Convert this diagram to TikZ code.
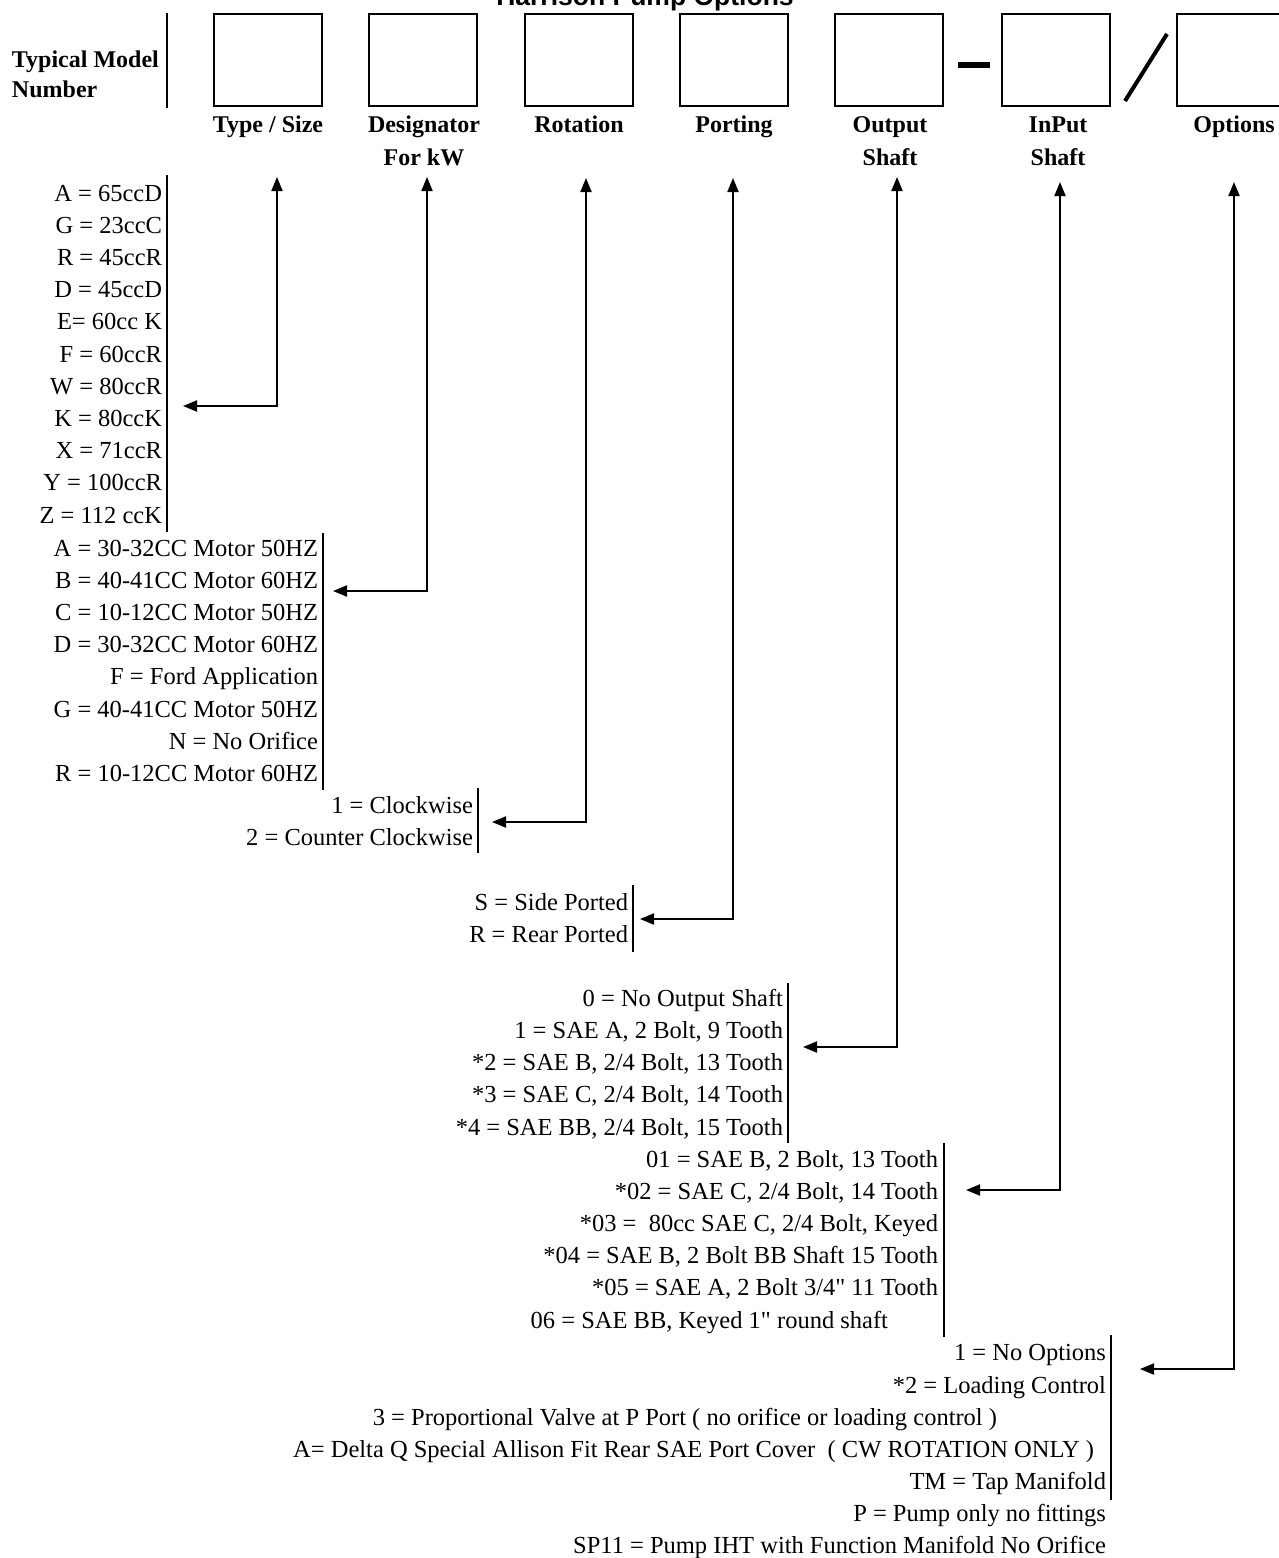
\documentclass[tikz,border=0pt]{standalone}
\usepackage{fontspec}
\setmainfont{Liberation Serif}
\newfontfamily\qfont{Liberation Serif}
\newfontfamily\titlefont{Liberation Sans}
\usetikzlibrary{arrows.meta}
\newcommand{\sq}{{\qfont"}}
\begin{document}
\begin{tikzpicture}[x=1pt,y=-1pt,
  every node/.style={inner sep=0pt, outer sep=0pt},
  txt/.style={anchor=base east, font=\fontsize{24.5}{28}\selectfont},
  hdr/.style={anchor=base, font=\fontsize{24}{28}\selectfont\bfseries},
  box/.style={draw, line width=2pt, minimum width=108pt, minimum height=92pt},
  bar/.style={line width=2.2pt},
  arr/.style={line width=2pt, {Triangle[length=14pt,width=11pt]}-{Triangle[length=14pt,width=11pt]}}
]
\useasboundingbox (0,0) rectangle (1278,1558);

% title (clipped at top, as in the reference)
\node[anchor=base, font=\titlefont\bfseries\fontsize{26.5}{30}\selectfont] (title) at (645,5) {Harrison Pump Options};

% typical model number
\node[anchor=base west, font=\fontsize{24}{28}\selectfont\bfseries] (tm1) at (12,67) {Typical Model};
\node[anchor=base west, font=\fontsize{24}{28}\selectfont\bfseries] (tm2) at (12,97) {Number};
\draw[bar] (167,13) -- (167,108);

% boxes
\node[box] (b1) at (268,60) {};
\node[box] (b2) at (423,60) {};
\node[box] (b3) at (578.5,60) {};
\node[box] (b4) at (733.5,60) {};
\node[box] (b5) at (889,60) {};
\node[box] (b6) at (1055.5,60) {};
\node[box] (b7) at (1231,60) {};
\draw[line width=6pt] (958,65) -- (990,65);
\draw[line width=4pt] (1125,101) -- (1167,34);

% header labels
\node[hdr] (h1) at (268,132) {Type / Size};
\node[hdr] (h2) at (424,132) {Designator};
\node[hdr] (h2b) at (424,165) {For kW};
\node[hdr] (h3) at (579,132) {Rotation};
\node[hdr] (h4) at (734,132) {Porting};
\node[hdr] (h5) at (890,132) {Output};
\node[hdr] (h5b) at (890,165) {Shaft};
\node[hdr] (h6) at (1058,132) {InPut};
\node[hdr] (h6b) at (1058,165) {Shaft};
\node[hdr] (h7) at (1234,132) {Options};

% list 1: type / size
\foreach \t [count=\i from 0] in {A = 65ccD, G = 23ccC, R = 45ccR, D = 45ccD, E= 60cc K, F = 60ccR, W = 80ccR, K = 80ccK, X = 71ccR, Y = 100ccR, Z = 112 ccK}
  \node[txt] (La-\i) at (162,201+32.2*\i) {\t};
\draw[bar] (167,175) -- (167,532);

% list 2: designator
\foreach \t [count=\i from 0] in {A = 30-32CC Motor 50HZ, B = 40-41CC Motor 60HZ, C = 10-12CC Motor 50HZ, D = 30-32CC Motor 60HZ, F = Ford Application, G = 40-41CC Motor 50HZ, N = No Orifice, R = 10-12CC Motor 60HZ}
  \node[txt] (Lb-\i) at (318,556+32.2*\i) {\t};
\draw[bar] (323,533) -- (323,790);

% list 3: rotation
\node[txt] (Lc-0) at (473,813) {1 = Clockwise};
\node[txt] (Lc-1) at (473,845) {2 = Counter Clockwise};
\draw[bar] (478,788) -- (478,853);

% list 4: porting
\node[txt] (Ld-0) at (628,910) {S = Side Ported};
\node[txt] (Ld-1) at (628,942) {R = Rear Ported};
\draw[bar] (633,885) -- (633,952);

% list 5: output shaft
\foreach \t [count=\i from 0] in {{0 = No Output Shaft}, {1 = SAE A, 2 Bolt, 9 Tooth}, {*2 = SAE B, 2/4 Bolt, 13 Tooth}, {*3 = SAE C, 2/4 Bolt, 14 Tooth}, {*4 = SAE BB, 2/4 Bolt, 15 Tooth}}
  \node[txt] (Le-\i) at (783,1006+32.25*\i) {\t};
\draw[bar] (788,983) -- (788,1143);

% list 6: input shaft
\foreach \t [count=\i from 0] in {{01 = SAE B, 2 Bolt, 13 Tooth}, {*02 = SAE C, 2/4 Bolt, 14 Tooth}, {*03 = \ 80cc SAE C, 2/4 Bolt, Keyed}, {*04 = SAE B, 2 Bolt BB Shaft 15 Tooth}, {*05 = SAE A, 2 Bolt 3/4\sq{} 11 Tooth}}
  \node[txt] (Lf-\i) at (938,1167+32.2*\i) {\t};
\node[txt] (Lf-5) at (888,1328) {06 = SAE BB, Keyed 1\sq{} round shaft};
\draw[bar] (944,1143) -- (944,1337);

% list 7: options
\node[txt] (Lg-0) at (1106,1360) {1 = No Options};
\node[txt] (Lg-1) at (1106,1393) {*2 = Loading Control};
\node[txt] (Lg-2) at (997,1425) {3 = Proportional Valve at P Port ( no orifice or loading control )};
\node[txt] (Lg-3) at (1094,1457) {A= Delta Q Special Allison Fit Rear SAE Port Cover \ ( CW ROTATION ONLY )};
\node[txt] (Lg-4) at (1106,1489) {TM = Tap Manifold};
\node[txt] (Lg-5) at (1106,1521) {P = Pump only no fittings};
\node[txt] (Lg-6) at (1106,1553) {SP11 = Pump IHT with Function Manifold No Orifice};
\draw[bar] (1111,1335) -- (1111,1500);

% arrow coordinates
\coordinate (top1) at (277,177);  \coordinate (tip1) at (183,406);
\coordinate (top2) at (427,177);  \coordinate (tip2) at (333,591);
\coordinate (top3) at (586,178);  \coordinate (tip3) at (492,822);
\coordinate (top4) at (733,178);  \coordinate (tip4) at (640,919);
\coordinate (top5) at (897,177);  \coordinate (tip5) at (803,1047);
\coordinate (top6) at (1060,182); \coordinate (tip6) at (966,1190);
\coordinate (top7) at (1234,182); \coordinate (tip7) at (1140,1369);

\foreach \k in {1,...,7}
  \draw[arr] (tip\k) -| (top\k);
\end{tikzpicture}
\end{document}
